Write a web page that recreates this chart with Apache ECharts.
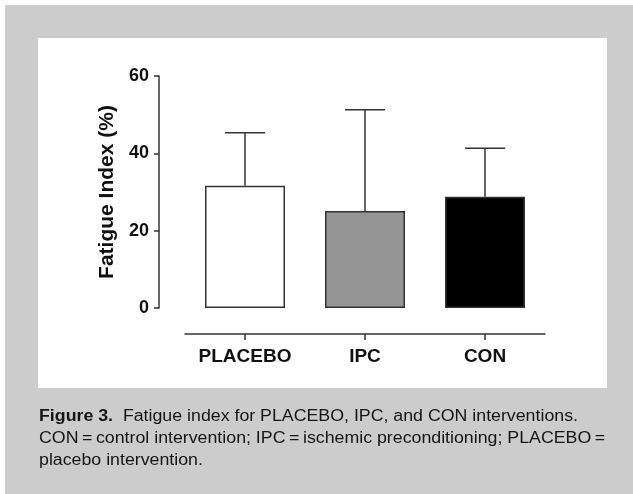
<!DOCTYPE html>
<html>
<head>
<meta charset="utf-8">
<script src="https://cdn.jsdelivr.net/npm/echarts@6/dist/echarts.min.js"></script>
<style>html,body{margin:0;padding:0;background:#fff}#c{width:633px;height:494px}</style>
</head>
<body>
<div id="c"></div>
<script>
const categories = ['PLACEBO', 'IPC', 'CON'];
const means = [31.6, 25.1, 28.8];
const sdUpper = [45.3, 51.3, 41.3];
const barColors = ['#ffffff', '#959595', '#000000'];
const yTicks = [0, 20, 40, 60];
const yAxisName = 'Fatigue Index (%)';
const captionBold = 'Figure 3.';
const captionLines = [
  '  Fatigue index for PLACEBO, IPC, and CON interventions.',
  'CON\u2009=\u2009control intervention; IPC\u2009=\u2009ischemic preconditioning; PLACEBO\u2009=',
  'placebo intervention.'
];

const chart = echarts.init(document.getElementById('c'), null, {renderer: 'canvas'});
const font = 'Liberation Sans, Arial, Helvetica, sans-serif';
const capScale = 1.11;

chart.setOption({
  backgroundColor: '#ffffff',
  animation: false,
  textStyle: {fontFamily: font},
  graphic: [
    {type: 'rect', z: -10, shape: {x: 5, y: 5, width: 628, height: 489}, style: {fill: '#cccccc'}, silent: true},
    {type: 'rect', z: -9, shape: {x: 38, y: 38, width: 569, height: 350}, style: {fill: '#ffffff'}, silent: true},
    {type: 'text', x: 39, y: 409, scaleX: capScale, style: {
      text: '{b|' + captionBold + '}{n|' + captionLines[0] + '}',
      rich: {
        b: {fontFamily: font, fontWeight: 'bold', fontSize: 16, fill: '#151515'},
        n: {fontFamily: font, fontSize: 16, fill: '#151515'}
      }
    }},
    {type: 'text', x: 39, y: 431, scaleX: capScale, style: {text: captionLines[1], fontFamily: font, fontSize: 16, fill: '#151515'}},
    {type: 'text', x: 39, y: 453, scaleX: capScale, style: {text: captionLines[2], fontFamily: font, fontSize: 16, fill: '#151515'}}
  ],
  grid: {left: 185, right: 88, top: 76, bottom: 186, containLabel: false},
  xAxis: {
    type: 'category',
    data: categories,
    offset: 26,
    axisLine: {show: true, onZero: false, lineStyle: {color: '#333', width: 1.5}},
    axisTick: {show: true, inside: false, alignWithLabel: true, length: 6, lineStyle: {color: '#333', width: 1.5}},
    axisLabel: {interval: 0, fontWeight: 'bold', fontSize: 19, color: '#111', margin: 13, fontFamily: font}
  },
  yAxis: {
    type: 'value',
    min: yTicks[0],
    max: yTicks[yTicks.length - 1],
    interval: 20,
    offset: 26,
    name: yAxisName,
    nameLocation: 'middle',
    nameGap: 31,
    nameTextStyle: {fontWeight: 'bold', fontSize: 21, color: '#111', fontFamily: font},
    axisLine: {show: true, lineStyle: {color: '#333', width: 1.5}},
    axisTick: {show: true, length: 5, lineStyle: {color: '#333', width: 1.5}},
    axisLabel: {fontWeight: 'bold', fontSize: 18, color: '#111', margin: 10, fontFamily: font},
    splitLine: {show: false}
  },
  series: [
    {
      type: 'bar',
      barWidth: 80,
      data: means.map((v, i) => ({value: v, itemStyle: {color: barColors[i]}})),
      itemStyle: {borderColor: '#333', borderWidth: 1.5},
      z: 2
    },
    {
      type: 'custom',
      z: 1,
      data: means.map((v, i) => [i, v, sdUpper[i]]),
      renderItem: function (params, api) {
        const x = api.value(0);
        const base = api.coord([x, api.value(1)]);
        const top = api.coord([x, api.value(2)]);
        const half = 20;
        return {
          type: 'group',
          children: [
            {type: 'line', shape: {x1: base[0], y1: base[1], x2: top[0], y2: top[1]}, style: {stroke: '#333', lineWidth: 1.5}},
            {type: 'line', shape: {x1: top[0] - half, y1: top[1], x2: top[0] + half, y2: top[1]}, style: {stroke: '#333', lineWidth: 1.5}}
          ]
        };
      }
    }
  ]
});
</script>
</body>
</html>
